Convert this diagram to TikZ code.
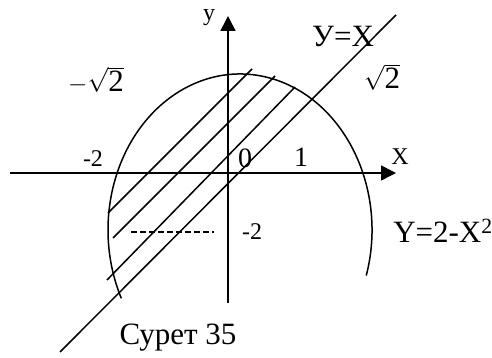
\documentclass[tikz,border=0pt]{standalone}
\usepackage{fontspec}
\setmainfont{Liberation Serif}
\usetikzlibrary{arrows.meta, calc}
\def\rx{132}
\def\ry{156}

\begin{document}
\begin{tikzpicture}[x=1pt, y=1pt,
    every node/.style={inner sep=0pt},
    axis/.style={line width=1.6pt, -{Triangle[length=15pt, width=15pt]}},
    curve/.style={line width=1.5pt},
    hatch/.style={line width=1.5pt},
    guide/.style={line width=1.3pt, dash pattern=on 6pt off 3pt},
    big/.style={font=\fontsize{31}{31}\selectfont},
    mid/.style={font=\fontsize{28}{28}\selectfont},
    small/.style={font=\fontsize{24}{24}\selectfont},
]
\useasboundingbox (0,0) rectangle (492,358);

% ---------------------------------------------------------- axes
\coordinate (ybot) at (228,55);
\coordinate (ytop) at (228,342);
\coordinate (xleft) at (10,185);
\coordinate (xright) at (396,185);
\draw[axis] (ybot) -- (ytop);
\draw[axis] (xleft) -- (xright);

% ---------------------------------------------------------- the curve
\coordinate (ctr) at (240,128);
\draw[curve] ($(ctr)+(-17:\rx pt and \ry pt)$) arc[start angle=-17, end angle=206,
    x radius=\rx, y radius=\ry];

% ---------------------------------------------------------- y = x and the hatching
\coordinate (da) at (60,6);    \coordinate (db) at (396,343);
\coordinate (ha1) at (108,145); \coordinate (hb1) at (252,289);
\coordinate (ha2) at (113,120); \coordinate (hb2) at (275,282);
\coordinate (ha3) at (107,78);  \coordinate (hb3) at (295,271);
\draw[hatch] (da) -- (db);
\foreach \i in {1,2,3} {
  \draw[hatch] (ha\i) -- (hb\i);
}

% ---------------------------------------------------------- level -2
\coordinate (ga) at (131,126);
\coordinate (gb) at (214,126);
\draw[guide] (ga) -- (gb);

% ---------------------------------------------------------- labels
\node[small] (ylab)  at (209,340) {y};
\node[small] (xlab)  at (400,201) {X};
\node[big]   (msq)   at (96,278)  {$-\sqrt{\mbox{2}}$};
\node[big]   (psq)   at (382,281) {$\sqrt{\mbox{2}}$};
\node[small] (mtwo)  at (93,199)  {-2};
\node[mid]   (zero)  at (245,200) {0};
\node[mid]   (one)   at (301,201) {1};
\node[big]   (yeqx)  at (343,321) {У=X};
\node[small] (ymtwo) at (252,126) {-2};
\node[big]   (para)  at (443,127) {Y=2-X\textsuperscript{2}};
\node[big]   (cap)   at (178,20)  {Сурет 35};

\end{tikzpicture}
\end{document}
